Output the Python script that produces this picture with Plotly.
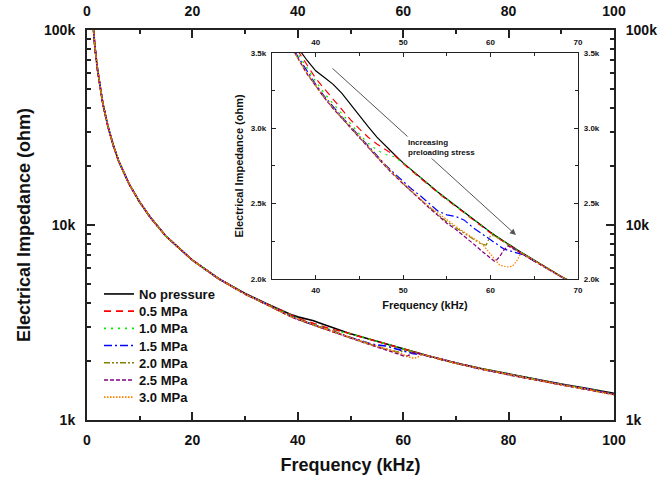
import plotly.graph_objects as go

# ---------------- data (impedance in kOhm) ----------------
freq_khz = [1.0, 1.5, 2, 3, 4, 5, 6, 8, 10, 12, 15, 20, 25,
            30, 34, 36, 37, 38, 39, 40, 41, 42, 43, 44, 45, 46, 47, 48, 49,
            50, 51, 52, 53, 54, 55, 56, 57, 58, 59, 59.5, 60, 60.5, 61, 61.5,
            62, 62.5, 63, 63.5, 64, 65, 66, 67, 68, 69, 70, 75, 80, 85, 90, 95, 100]

z_low_common = [120, 82, 62.5, 42, 31.8, 25.6, 21.3, 16.2, 13.1, 10.95, 8.75, 6.6, 5.3]

z_no_pressure = [4.45, 3.96, 3.74, 3.63, 3.53, 3.45, 3.38, 3.335, 3.29, 3.23, 3.155, 3.08, 3.01, 2.94, 2.88, 2.825,
                 2.77, 2.72, 2.67, 2.62, 2.575, 2.53, 2.485, 2.44, 2.395, 2.35, 2.33, 2.31, 2.29, 2.27, 2.25,
                 2.23, 2.212, 2.195, 2.178, 2.16, 2.125, 2.09, 2.055, 2.02, 1.99, 1.96, 1.83, 1.72, 1.62, 1.53, 1.45, 1.37]
z_05 = [4.44, 3.95, 3.73, 3.62, 3.51, 3.42, 3.33, 3.26, 3.19, 3.12, 3.055, 2.995, 2.94, 2.895, 2.86, 2.82,
        2.765, 2.715, 2.665, 2.615, 2.57, 2.525, 2.48, 2.435, 2.39, 2.345, 2.325, 2.305, 2.285, 2.265, 2.245,
        2.225, 2.207, 2.19, 2.172, 2.155, 2.12, 2.085, 2.05, 2.015, 1.985, 1.955, 1.825, 1.715, 1.615, 1.52, 1.44, 1.36]
z_10 = [4.44, 3.94, 3.72, 3.60, 3.49, 3.40, 3.31, 3.23, 3.16, 3.095, 3.03, 2.96, 2.90, 2.855, 2.825, 2.81,
        2.77, 2.72, 2.67, 2.62, 2.575, 2.53, 2.485, 2.44, 2.395, 2.35, 2.33, 2.31, 2.29, 2.27, 2.25,
        2.228, 2.21, 2.193, 2.176, 2.158, 2.123, 2.088, 2.053, 2.018, 1.988, 1.958, 1.83, 1.72, 1.62, 1.525, 1.445, 1.365]
z_15 = [4.43, 3.93, 3.69, 3.57, 3.47, 3.38, 3.29, 3.21, 3.14, 3.075, 3.01, 2.945, 2.88, 2.815, 2.755, 2.70,
        2.645, 2.595, 2.55, 2.50, 2.45, 2.425, 2.415, 2.39, 2.34, 2.30, 2.28, 2.26, 2.24, 2.22, 2.20,
        2.19, 2.183, 2.175, 2.165, 2.152, 2.118, 2.083, 2.048, 2.013, 1.983, 1.953, 1.82, 1.71, 1.61, 1.52, 1.44, 1.355]
z_20 = [4.42, 3.92, 3.67, 3.56, 3.46, 3.365, 3.28, 3.20, 3.13, 3.065, 3.005, 2.94, 2.875, 2.81, 2.75, 2.69,
        2.632, 2.578, 2.525, 2.475, 2.425, 2.38, 2.34, 2.30, 2.265, 2.23, 2.225, 2.29, 2.285, 2.265, 2.245,
        2.225, 2.208, 2.19, 2.173, 2.156, 2.121, 2.086, 2.051, 2.016, 1.986, 1.956, 1.822, 1.712, 1.612, 1.518, 1.438, 1.35]
z_25 = [4.42, 3.92, 3.67, 3.56, 3.46, 3.36, 3.28, 3.20, 3.13, 3.065, 3.005, 2.94, 2.875, 2.81, 2.745, 2.685,
        2.63, 2.575, 2.52, 2.47, 2.42, 2.37, 2.33, 2.285, 2.235, 2.185, 2.16, 2.135, 2.115, 2.145, 2.19,
        2.22, 2.205, 2.188, 2.17, 2.153, 2.118, 2.083, 2.048, 2.013, 1.982, 1.952, 1.82, 1.705, 1.605, 1.515, 1.435, 1.35]
z_30 = [4.42, 3.92, 3.67, 3.56, 3.46, 3.365, 3.285, 3.205, 3.135, 3.07, 3.01, 2.945, 2.88, 2.815, 2.75, 2.69,
        2.635, 2.58, 2.53, 2.48, 2.435, 2.39, 2.35, 2.31, 2.275, 2.235, 2.20, 2.165, 2.135, 2.095, 2.085,
        2.08, 2.085, 2.12, 2.175, 2.158, 2.12, 2.085, 2.05, 2.015, 1.984, 1.954, 1.82, 1.71, 1.61, 1.515, 1.435, 1.345]

series_names = ["No pressure", "0.5 MPa", "1.0 MPa", "1.5 MPa", "2.0 MPa", "2.5 MPa", "3.0 MPa"]
series_values = [z_no_pressure, z_05, z_10, z_15, z_20, z_25, z_30]

x_ticks = [0, 20, 40, 60, 80, 100]
x_minor = [10, 30, 50, 70, 90]
y_ticks = [1, 10, 100]
y_ticktext = ["1k", "10k", "100k"]
y_minor = [2, 3, 4, 5, 6, 7, 8, 9, 20, 30, 40, 50, 60, 70, 80, 90]
inset_x_ticks = [40, 50, 60, 70]
inset_x_minor = [45, 55, 65]
inset_y_ticks = [2.0, 2.5, 3.0, 3.5]
inset_y_ticktext = ["2.0k", "2.5k", "3.0k", "3.5k"]
inset_y_minor = [2.25, 2.75, 3.25]

# ---------------- styles ----------------
colors = ["#000000", "#ff0000", "#00ee00", "#0000ff", "#808000", "#800080", "#ff8000"]
dashes = ["solid", "7px,5px", "2px,5px", "8px,3px,2px,3px", "6px,2px,2px,2px,2px,2px", "4px,2px", "1.5px,1.5px"]

FONT = "Arial, 'Liberation Sans', sans-serif"
AX = "#222222"

# plot area in pixels (for placing the per-entry legends)
PLOT_TOP, PLOT_BOTTOM = 30, 420
legend_first_px, legend_step_px = 294, 17.2

fig = go.Figure()

for i, (name, vals, c, d) in enumerate(zip(series_names, series_values, colors, dashes)):
    z = z_low_common + vals
    lg = "legend" if i == 0 else f"legend{i + 1}"
    fig.add_trace(go.Scatter(x=freq_khz, y=z, mode="lines", name=name,
                             line=dict(color=c, dash=d, width=1.6),
                             xaxis="x", yaxis="y", legendgroup=name, legend=lg))
for name, vals, c, d in zip(series_names, series_values, colors, dashes):
    z = z_low_common + vals
    fig.add_trace(go.Scatter(x=freq_khz, y=z, mode="lines", name=name, showlegend=False,
                             line=dict(color=c, dash=d, width=1.2),
                             xaxis="x3", yaxis="y3", legendgroup=name))

# invisible anchors for the mirrored (labelled) axes
fig.add_trace(go.Scatter(x=freq_khz, y=z_low_common + z_no_pressure, mode="lines", showlegend=False,
                         line=dict(width=0), opacity=0, hoverinfo="skip", xaxis="x2", yaxis="y2"))
fig.add_trace(go.Scatter(x=freq_khz, y=z_low_common + z_no_pressure, mode="lines", showlegend=False,
                         line=dict(width=0), opacity=0, hoverinfo="skip", xaxis="x4", yaxis="y4"))

main_tickfont = dict(family=FONT, size=14, color="#111", weight="bold")
inset_tickfont = dict(family=FONT, size=8, color="#111", weight="bold")

common_x = dict(range=[0, 100], tickmode="array", tickvals=x_ticks, ticks="inside", ticklen=8,
                tickwidth=2, tickcolor=AX, showline=True, linecolor=AX, linewidth=2, automargin=False,
                showgrid=False, zeroline=False, tickfont=main_tickfont, ticklabelstandoff=6,
                minor=dict(tickmode="array", tickvals=x_minor, ticks="inside", ticklen=4,
                           tickwidth=1.5, tickcolor=AX, showgrid=False))
common_y = dict(type="log", range=[0, 2], tickmode="array", tickvals=y_ticks, ticktext=y_ticktext,
                ticks="inside", ticklen=8, tickwidth=2, tickcolor=AX, showline=True, linecolor=AX,
                linewidth=2, showgrid=False, zeroline=False, tickfont=main_tickfont, ticklabelstandoff=7,
                automargin=False,
                minor=dict(tickmode="array", tickvals=y_minor, ticks="inside", ticklen=4,
                           tickwidth=1.5, tickcolor=AX, showgrid=False))

ix0, ix1 = 0.351, 0.9317
iy0, iy1 = 0.3615, 0.9418

common_ix = dict(range=[35, 70], tickmode="array", tickvals=inset_x_ticks, ticks="inside", ticklen=4,
                 tickwidth=1, tickcolor=AX, showline=True, linecolor=AX, linewidth=1.2, automargin=False,
                 showgrid=False, zeroline=False, tickfont=inset_tickfont, ticklabelstandoff=3,
                 domain=[ix0, ix1],
                 minor=dict(tickmode="array", tickvals=inset_x_minor, ticks="inside", ticklen=3,
                            tickwidth=1, tickcolor=AX, showgrid=False))
common_iy = dict(range=[2.0, 3.5], tickmode="array", tickvals=inset_y_ticks, ticktext=inset_y_ticktext,
                 ticks="inside", ticklen=4, tickwidth=1, tickcolor=AX, showline=True, linecolor=AX,
                 linewidth=1.2, showgrid=False, zeroline=False, tickfont=inset_tickfont, automargin=False,
                 ticklabelstandoff=3, domain=[iy0, iy1],
                 minor=dict(tickmode="array", tickvals=inset_y_minor, ticks="inside", ticklen=3,
                            tickwidth=1, tickcolor=AX, showgrid=False))

legend_font = dict(family=FONT, size=13, weight="bold", color="#111")
legends = {}
for i in range(len(series_names)):
    key = "legend" if i == 0 else f"legend{i + 1}"
    ypx = legend_first_px + i * legend_step_px
    legends[key] = dict(x=0.0228, y=(PLOT_BOTTOM - ypx) / (PLOT_BOTTOM - PLOT_TOP),
                        xanchor="left", yanchor="middle", bgcolor="rgba(0,0,0,0)",
                        font=legend_font, borderwidth=0)

fig.update_layout(
    width=667, height=480,
    margin=dict(l=87, r=53, t=PLOT_TOP, b=480 - PLOT_BOTTOM, autoexpand=False),
    paper_bgcolor="white", plot_bgcolor="white",
    font=dict(family=FONT, color="#111"),
    xaxis=dict(**common_x, side="bottom", anchor="y",
               title=dict(text="Frequency (kHz)", font=dict(family=FONT, size=18, weight="bold"), standoff=12)),
    xaxis2=dict(**common_x, side="top", anchor="y", overlaying="x"),
    yaxis=dict(**common_y, side="left", anchor="x",
               title=dict(text="Electrical Impedance (ohm)", font=dict(family=FONT, size=18, weight="bold"), standoff=9)),
    yaxis2=dict(**common_y, side="right", anchor="x", overlaying="y"),
    xaxis3=dict(**common_ix, side="bottom", anchor="y3",
                title=dict(text="Frequency (kHz)", font=dict(family=FONT, size=11, weight="bold"), standoff=7)),
    xaxis4=dict(**common_ix, side="top", anchor="y3", overlaying="x3"),
    yaxis3=dict(**common_iy, side="left", anchor="x3",
                title=dict(text="Electrical Impedance (ohm)", font=dict(family=FONT, size=11, weight="bold"), standoff=4)),
    yaxis4=dict(**common_iy, side="right", anchor="x3", overlaying="y3"),
    showlegend=True,
    annotations=[
        dict(xref="x3", yref="y3", axref="x3", ayref="y3", x=62.9, y=2.292, ax=41.75, ay=3.405,
             text="", showarrow=True, arrowhead=2, arrowsize=1.2, arrowwidth=1, arrowcolor="#555"),
        dict(xref="x3", yref="y3", x=50.33, y=2.872, xanchor="left", yanchor="middle", align="left",
             text="Increasing<br>preloading stress", showarrow=False, bgcolor="white",
             font=dict(family=FONT, size=8, weight="bold", color="#111")),
    ],
    **legends,
)

fig.write_html("out.html",
               config={"displayModeBar": False},
               post_script="document.body.style.margin='0';document.body.style.overflow='hidden';")
